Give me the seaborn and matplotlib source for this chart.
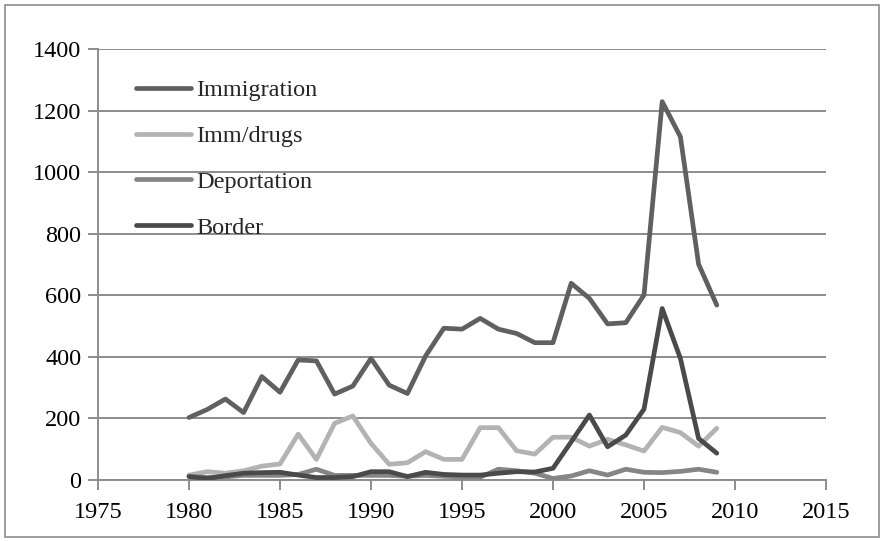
import matplotlib
matplotlib.use("Agg")
import matplotlib.pyplot as plt
import seaborn as sns
import pandas as pd
from matplotlib.patches import Rectangle

years = list(range(1980, 2010))
immigration = [203, 229, 263, 219, 336, 285, 390, 387, 279, 305, 395, 308, 281, 403, 493,
               490, 525, 490, 476, 446, 446, 639, 590, 507, 511, 601, 1229, 1115, 701, 568]
imm_drugs = [16, 27, 22, 30, 45, 52, 149, 67, 184, 208, 119, 51, 56, 92, 67,
             67, 170, 170, 95, 84, 139, 139, 110, 132, 114, 94, 171, 154, 110, 168]
deportation = [12, 8, 10, 15, 15, 15, 18, 35, 15, 15, 15, 15, 12, 15, 12,
               10, 9, 35, 30, 22, 5, 13, 30, 16, 35, 25, 24, 28, 35, 25]
border = [11, 5, 14, 22, 24, 25, 16, 8, 8, 11, 27, 27, 11, 25, 18,
          16, 16, 22, 27, 26, 38, 124, 211, 108, 146, 230, 557, 395, 135, 87]
series_names = ["Immigration", "Imm/drugs", "Deportation", "Border"]
x_ticks = [1975, 1980, 1985, 1990, 1995, 2000, 2005, 2010, 2015]
y_ticks = [0, 200, 400, 600, 800, 1000, 1200, 1400]

rows = []
for name, vals in zip(series_names, [immigration, imm_drugs, deportation, border]):
    for yr, v in zip(years, vals):
        rows.append({"Year": yr, "Count": v, "Series": name})
df = pd.DataFrame(rows)

sns.set_style("white")
plt.rcParams["font.family"] = ["Liberation Serif", "DejaVu Serif"]

fig = plt.figure(figsize=(8.83, 5.41), dpi=100)
ax = fig.add_axes([98/883, 61/541, 728/883, 431/541])

palette = {"Immigration": "#606060", "Imm/drugs": "#b3b3b3",
           "Deportation": "#858585", "Border": "#4a4a4a"}
sns.lineplot(data=df, x="Year", y="Count", hue="Series", hue_order=series_names,
             palette=palette, linewidth=3.4, ax=ax, legend=True,
             solid_capstyle="round", zorder=3)

ax.set_xlim(1975, 2015)
ax.set_ylim(0, 1400)
ax.set_xticks(x_ticks)
ax.set_yticks(y_ticks)
ax.set_xlabel("")
ax.set_ylabel("")
ax.grid(axis="y", color="#8c8c8c", linewidth=1.4, zorder=0)
ax.grid(axis="x", visible=False)
for s in ["top", "right"]:
    ax.spines[s].set_visible(False)
for s in ["left", "bottom"]:
    ax.spines[s].set_color("#8c8c8c")
    ax.spines[s].set_linewidth(1.4)
ax.tick_params(axis="both", which="major", direction="out", length=7, width=1.4,
               color="#8c8c8c", labelsize=17.5, labelcolor="black", pad=4)
ax.tick_params(axis="x", bottom=True, pad=9)
ax.tick_params(axis="y", left=True, pad=5)

leg = ax.legend(loc="upper left", bbox_to_anchor=(0.052, 0.93), frameon=False,
                fontsize=17.5, handlelength=2.25, handletextpad=0.25, labelspacing=0.98,
                borderpad=0, borderaxespad=0)
for line in leg.get_lines():
    line.set_linewidth(3.4)
    line.set_solid_capstyle("round")

fig.patches.append(Rectangle((4.5/883, 4.5/541), 874/883, 532/541, transform=fig.transFigure,
                             fill=False, edgecolor="#8c8c8c", linewidth=1.2))

fig.savefig("out.png", dpi=100)
